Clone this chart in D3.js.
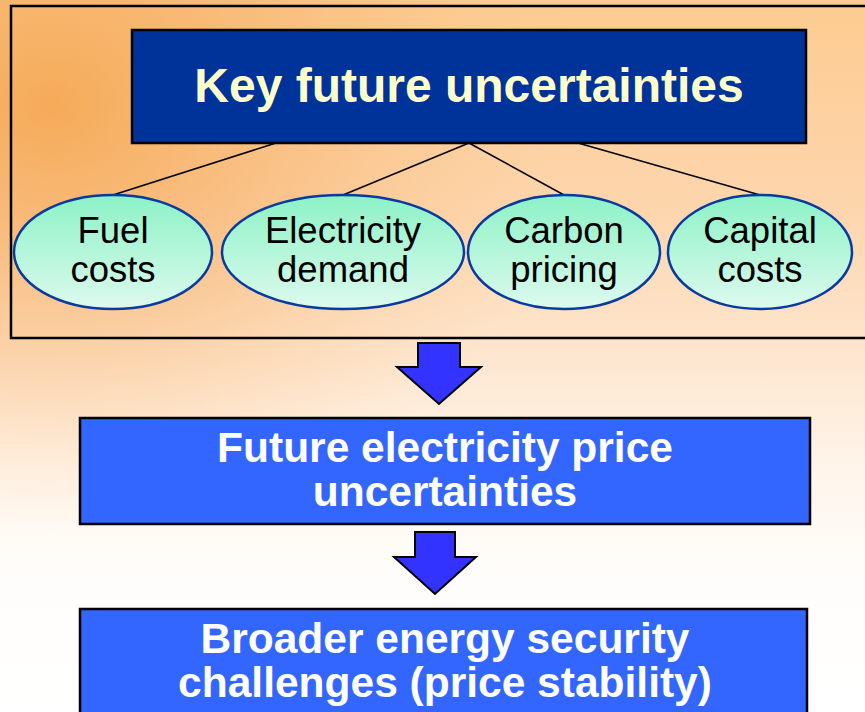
<!DOCTYPE html>
<html>
<head>
<meta charset="utf-8">
<script src="https://cdn.jsdelivr.net/npm/d3@7"></script>
<style>
  html, body { margin: 0; padding: 0; background: #fff; }
  svg { display: block; }
</style>
</head>
<body>
<svg width="865" height="712"></svg>
<script>
// diagram content
let title = "Key future uncertainties";
let factors = [["Fuel", "costs"], ["Electricity", "demand"], ["Carbon", "pricing"], ["Capital", "costs"]];
let outcomes = [["Future electricity price", "uncertainties"], ["Broader energy security", "challenges (price stability)"]];

// layout (pixels), kept apart from the content
let factorCx = [113, 343, 564, 760];
let factorRx = [99, 121, 96, 92];
let lineFrom = [276, 469, 469, 578];

let svg = d3.select("svg");
let W = +svg.attr("width"), H = +svg.attr("height");
let defs = svg.append("defs");

// background: orange from top-left fading to white
let lg = defs.append("linearGradient").attr("id", "bgv")
  .attr("x1", 0).attr("y1", 0).attr("x2", 0).attr("y2", 1);
[[0, "#FDCB90"], [0.3, "#FDD6AE"], [0.5, "#FDE6CF"], [0.66, "#FFF5EB"], [0.8, "#FFFDFA"], [1, "#FFFFFF"]]
  .forEach(s => lg.append("stop").attr("offset", s[0]).attr("stop-color", s[1]));
let rg = defs.append("radialGradient").attr("id", "bgr")
  .attr("cx", 0.06).attr("cy", 0.15).attr("r", 0.6);
rg.append("stop").attr("offset", 0).attr("stop-color", "#F4A650").attr("stop-opacity", 0.9);
rg.append("stop").attr("offset", 0.5).attr("stop-color", "#F6B068").attr("stop-opacity", 0.45);
rg.append("stop").attr("offset", 1).attr("stop-color", "#FAC890").attr("stop-opacity", 0);

let eg = defs.append("linearGradient").attr("id", "ell")
  .attr("x1", 0).attr("y1", 0).attr("x2", 0).attr("y2", 1);
eg.append("stop").attr("offset", 0).attr("stop-color", "#8CF2C6");
eg.append("stop").attr("offset", 1).attr("stop-color", "#DDFAEE");

svg.append("rect").attr("width", W).attr("height", H).attr("fill", "url(#bgv)");
svg.append("rect").attr("width", W).attr("height", H).attr("fill", "url(#bgr)");

// outer frame
svg.append("rect")
  .attr("x", 11).attr("y", 6).attr("width", W).attr("height", 332)
  .attr("fill", "none").attr("stroke", "#000").attr("stroke-width", 2.5);

// connector lines
let titleBox = {x: 132, y: 30, w: 674, h: 113};
let ey = 252, ery = 57;
svg.selectAll(".link").data(factors).join("line")
  .attr("class", "link")
  .attr("x1", (d, i) => lineFrom[i]).attr("y1", titleBox.y + titleBox.h)
  .attr("x2", (d, i) => factorCx[i]).attr("y2", ey - ery)
  .attr("stroke", "#000").attr("stroke-width", 1.5);

// title box
svg.append("rect")
  .attr("x", titleBox.x).attr("y", titleBox.y).attr("width", titleBox.w).attr("height", titleBox.h)
  .attr("fill", "#003399").attr("stroke", "#000").attr("stroke-width", 2.5);
svg.append("text")
  .attr("x", 469).attr("y", 102)
  .attr("text-anchor", "middle")
  .attr("font-family", "Liberation Sans, Arial, sans-serif")
  .attr("font-weight", "bold").attr("font-size", 48)
  .attr("fill", "#FFFFCC")
  .text(title);

// factor ellipses
let fg = svg.selectAll(".factor").data(factors).join("g").attr("class", "factor");
fg.append("ellipse")
  .attr("cx", (d, i) => factorCx[i]).attr("cy", ey)
  .attr("rx", (d, i) => factorRx[i]).attr("ry", ery)
  .attr("fill", "url(#ell)").attr("stroke", "#0A3A9E").attr("stroke-width", 2.5);
fg.each(function(d, i) {
  d3.select(this).selectAll("text").data(d).join("text")
    .attr("x", factorCx[i]).attr("y", (t, j) => 243 + j * 39)
    .attr("text-anchor", "middle")
    .attr("font-family", "Liberation Sans, Arial, sans-serif")
    .attr("font-size", 36.5).attr("fill", "#000")
    .text(t => t);
});

// down arrows
let arrows = [{cx: 439, y0: 343, y1: 367, y2: 404, sw: 21, hw: 42},
              {cx: 435, y0: 532, y1: 557, y2: 594, sw: 20, hw: 41}];
svg.selectAll(".arrow").data(arrows).join("path")
  .attr("class", "arrow")
  .attr("d", a => {
    let p = d3.path();
    p.moveTo(a.cx - a.sw, a.y0); p.lineTo(a.cx + a.sw, a.y0);
    p.lineTo(a.cx + a.sw, a.y1); p.lineTo(a.cx + a.hw, a.y1);
    p.lineTo(a.cx, a.y2); p.lineTo(a.cx - a.hw, a.y1);
    p.lineTo(a.cx - a.sw, a.y1); p.closePath();
    return p.toString();
  })
  .attr("fill", "#3333FF").attr("stroke", "#000").attr("stroke-width", 2).attr("stroke-linejoin", "miter");

// outcome boxes
let boxes = [{x: 80, y: 418, w: 730, h: 106, b: 462}, {x: 80, y: 609, w: 727, h: 130, b: 653}];
let og = svg.selectAll(".outcome").data(outcomes).join("g").attr("class", "outcome");
og.append("rect")
  .attr("x", (d, i) => boxes[i].x).attr("y", (d, i) => boxes[i].y)
  .attr("width", (d, i) => boxes[i].w).attr("height", (d, i) => boxes[i].h)
  .attr("fill", "#3366FF").attr("stroke", "#000").attr("stroke-width", 2.5);
og.each(function(d, i) {
  d3.select(this).selectAll("text").data(d).join("text")
    .attr("x", 445).attr("y", (t, j) => boxes[i].b + j * 44)
    .attr("text-anchor", "middle")
    .attr("font-family", "Liberation Sans, Arial, sans-serif")
    .attr("font-weight", "bold").attr("font-size", 42.5).attr("fill", "#fff")
    .text(t => t);
});
</script>
</body>
</html>
